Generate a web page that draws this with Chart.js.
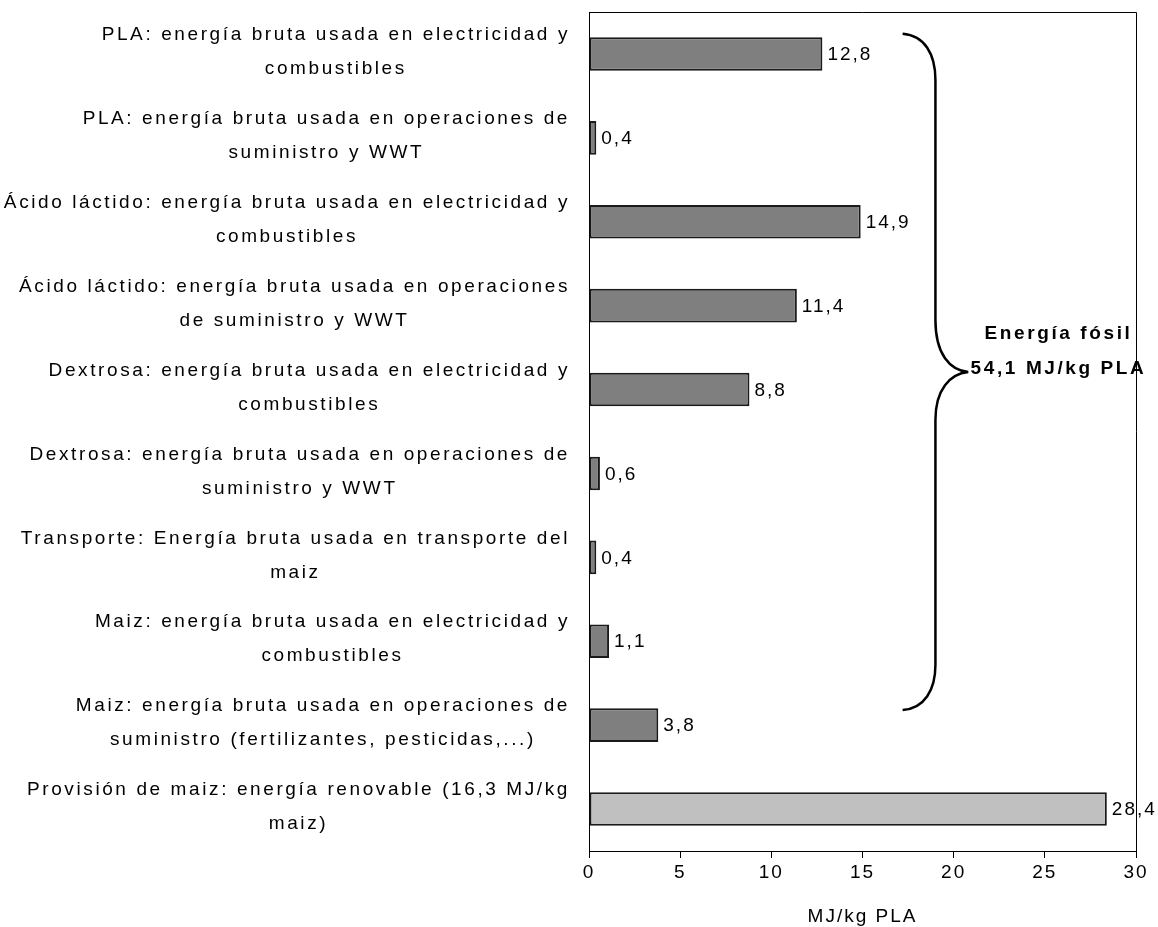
<!DOCTYPE html>
<html>
<head>
<meta charset="utf-8">
<script src="https://cdn.jsdelivr.net/npm/chart.js@4.4.1/dist/chart.umd.min.js"></script>
<style>
  html, body { margin: 0; padding: 0; background: #fff; }
  #wrap { width: 1158px; height: 927px; }
</style>
</head>
<body>
<div id="wrap"><canvas id="energia"></canvas></div>
<script>
// categorias (dos lineas cada una, como en el original)
const categorias = [
    ['PLA: energía bruta usada en electricidad y', 'combustibles'],
    ['PLA: energía bruta usada en operaciones de', 'suministro y WWT'],
    ['Ácido láctido: energía bruta usada en electricidad y', 'combustibles'],
    ['Ácido láctido: energía bruta usada en operaciones', 'de suministro y WWT'],
    ['Dextrosa: energía bruta usada en electricidad y', 'combustibles'],
    ['Dextrosa: energía bruta usada en operaciones de', 'suministro y WWT'],
    ['Transporte: Energía bruta usada en transporte del', 'maiz'],
    ['Maiz: energía bruta usada en electricidad y', 'combustibles'],
    ['Maiz: energía bruta usada en operaciones de', 'suministro (fertilizantes, pesticidas,...)'],
    ['Provisión de maiz: energía renovable (16,3 MJ/kg', 'maiz)']
];
const valores = [12.8, 0.4, 14.9, 11.4, 8.8, 0.6, 0.4, 1.1, 3.8, 28.4];
const tipoEnergia = ['fósil', 'fósil', 'fósil', 'fósil', 'fósil', 'fósil', 'fósil', 'fósil', 'fósil', 'renovable'];
const ejeX = { min: 0, max: 30, paso: 5, titulo: 'MJ/kg PLA' };
const anotacion = ['Energía fósil', '54,1 MJ/kg PLA'];

const FONT = '"Liberation Sans", Arial, sans-serif';

const fmt = v => v.toFixed(1).replace('.', ',');

// espaciado de letras para el texto que dibuja Chart.js (ticks)
const espaciadoPlugin = {
    id: 'espaciado',
    beforeDraw(chart) {
        chart.ctx.letterSpacing = '2px';
    }
};

const extrasPlugin = {
    id: 'extras',
    afterDraw(chart) {
        const { ctx, chartArea, scales: { x, y } } = chart;
        ctx.save();

        // marco superior y derecho del area
        ctx.strokeStyle = '#000';
        ctx.lineWidth = 1;
        ctx.beginPath();
        ctx.moveTo(chartArea.left, chartArea.top + 0.5);
        ctx.lineTo(chartArea.right + 0.5, chartArea.top + 0.5);
        ctx.lineTo(chartArea.right + 0.5, chartArea.bottom);
        ctx.stroke();

        // etiquetas de categoria, centradas linea por linea
        ctx.font = '19px ' + FONT;
        ctx.letterSpacing = '2.6px';
        ctx.fillStyle = '#000';
        ctx.textBaseline = 'middle';
        ctx.textAlign = 'center';
        categorias.forEach((lineas, i) => {
            const cy = y.getPixelForValue(i) - 2;
            const ancho = Math.max(...lineas.map(l => ctx.measureText(l).width));
            const cx = chartArea.left - 19 - ancho / 2;
            lineas.forEach((l, k) => {
                ctx.fillText(l, cx, cy + (k - (lineas.length - 1) / 2) * 34);
            });
        });

        // valores al final de cada barra
        ctx.letterSpacing = '2px';
        ctx.textAlign = 'left';
        valores.forEach((v, i) => {
            ctx.fillText(fmt(v), x.getPixelForValue(v) + 5, y.getPixelForValue(i) + 1);
        });

        // titulo del eje x
        ctx.textAlign = 'center';
        ctx.fillText(ejeX.titulo, (chartArea.left + chartArea.right) / 2, chartArea.bottom + 66);

        // llave
        const px = v => x.getPixelForValue(v);
        const py = v => y.getPixelForValue(v);
        ctx.lineWidth = 2.5;
        ctx.beginPath();
        ctx.moveTo(px(17.2), py(-0.24));
        ctx.bezierCurveTo(px(18.4), py(-0.22), px(19.0), py(0.0), px(19.0), py(0.31));
        ctx.lineTo(px(19.0), py(3.17));
        ctx.bezierCurveTo(px(19.0), py(3.58), px(19.8), py(3.77), px(20.8), py(3.79));
        ctx.bezierCurveTo(px(19.8), py(3.81), px(19.0), py(4.0), px(19.0), py(4.36));
        ctx.lineTo(px(19.0), py(7.28));
        ctx.bezierCurveTo(px(19.0), py(7.58), px(18.4), py(7.8), px(17.2), py(7.82));
        ctx.stroke();

        // texto de la llave
        ctx.font = 'bold 19px ' + FONT;
        ctx.letterSpacing = '2.6px';
        ctx.fillText(anotacion[0], px(25.75), py(3.33));
        ctx.fillText(anotacion[1], px(25.75), py(3.75));

        ctx.restore();
    }
};

const grafico = new Chart(document.getElementById('energia').getContext('2d'), {
    type: 'bar',
    data: {
        labels: categorias,
        datasets: [{
            data: valores,
            backgroundColor: ctx => tipoEnergia[ctx.dataIndex] === 'renovable' ? '#c0c0c0' : '#7f7f7f',
            borderColor: '#1a1a1a',
            borderWidth: 2,
            borderSkipped: false,
            categoryPercentage: 1,
            barPercentage: 0.4
        }]
    },
    options: {
        indexAxis: 'y',
        responsive: true,
        maintainAspectRatio: false,
        animation: false,
        layout: { padding: { top: 12, right: 22, bottom: 0, left: 0 } },
        plugins: {
            legend: { display: false },
            tooltip: { enabled: false }
        },
        scales: {
            x: {
                min: ejeX.min,
                max: ejeX.max,
                ticks: {
                    stepSize: ejeX.paso,
                    color: '#000',
                    padding: 3,
                    font: { family: FONT, size: 19 },
                    callback: v => String(v)
                },
                grid: {
                    drawOnChartArea: false,
                    drawTicks: true,
                    tickLength: 7,
                    color: '#000'
                },
                border: { display: true, color: '#000', width: 1 },
                afterFit(scale) {
                    scale.height = 76;
                    scale.paddingLeft = 0;
                    scale.paddingRight = 0;
                }
            },
            y: {
                ticks: { display: false },
                grid: { display: false },
                border: { display: true, color: '#000', width: 1 },
                afterFit(scale) { scale.width = 589; }
            }
        }
    },
    plugins: [espaciadoPlugin, extrasPlugin]
});
</script>
</body>
</html>
